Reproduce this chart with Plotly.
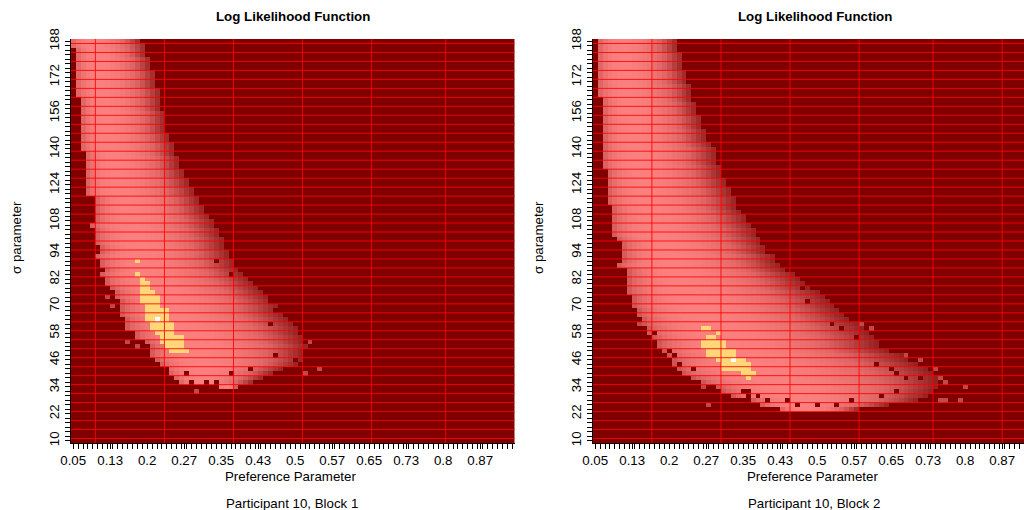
import plotly.graph_objects as go

# ---------------- grid of the likelihood surface ----------------
x_vals = [round(0.05 + 0.01 * i, 2) for i in range(90)]      # preference parameter cells
y_vals = list(range(10, 190, 2))                               # sigma parameter cells

xtick_vals = [0.05, 0.125, 0.2, 0.275, 0.35, 0.425, 0.5, 0.575, 0.65, 0.725, 0.8, 0.875]
xtick_text = ["0.05", "0.13", "0.2", "0.27", "0.35", "0.43", "0.5", "0.57", "0.65", "0.73", "0.8", "0.87"]
ytick_vals = [10, 22, 34, 46, 58, 70, 82, 94, 108, 124, 140, 156, 172, 188]
ytick_text = [str(v) for v in ytick_vals]

# ---------------- Block 1: band of high likelihood (row, left edge, right edge) ----------------
b1_rows = [188, 186, 184, 182, 180, 178, 176, 174, 172, 170, 168, 166, 164, 162, 160, 158, 156, 154,
           152, 150, 148, 146, 144, 142, 140, 138, 136, 134, 132, 130, 128, 126, 124, 122, 120, 118,
           116, 114, 112, 110, 108, 106, 104, 102, 100, 98, 96, 94, 92, 90, 88, 86, 84, 82, 80, 78,
           76, 74, 72, 70, 68, 66, 64, 62, 60, 58, 56, 54, 52, 50, 48, 46, 44, 42, 40, 38, 36, 34]
b1_left = [0.05, 0.05, 0.06, 0.06, 0.06, 0.06, 0.06, 0.06, 0.06, 0.06, 0.06, 0.06, 0.06, 0.07, 0.07, 0.07,
           0.07, 0.07, 0.07, 0.07, 0.07, 0.07, 0.07, 0.07, 0.07, 0.08, 0.08, 0.08, 0.08, 0.08, 0.08, 0.08,
           0.08, 0.08, 0.08, 0.10, 0.10, 0.10, 0.10, 0.10, 0.10, 0.09, 0.10, 0.10, 0.10, 0.10, 0.11, 0.11,
           0.10, 0.11, 0.11, 0.12, 0.11, 0.12, 0.12, 0.13, 0.14, 0.14, 0.15, 0.15, 0.15, 0.15, 0.16, 0.16,
           0.16, 0.18, 0.18, 0.20, 0.21, 0.21, 0.21, 0.22, 0.23, 0.24, 0.25, 0.26, 0.27, 0.35]
b1_right = [0.18, 0.19, 0.19, 0.19, 0.20, 0.20, 0.20, 0.21, 0.21, 0.21, 0.21, 0.22, 0.22, 0.22, 0.22, 0.22,
            0.23, 0.23, 0.23, 0.23, 0.23, 0.24, 0.24, 0.25, 0.25, 0.25, 0.26, 0.26, 0.26, 0.27, 0.27, 0.28,
            0.28, 0.29, 0.29, 0.30, 0.30, 0.31, 0.31, 0.32, 0.33, 0.33, 0.34, 0.34, 0.35, 0.35, 0.35, 0.36,
            0.36, 0.37, 0.37, 0.38, 0.39, 0.40, 0.41, 0.42, 0.43, 0.44, 0.45, 0.46, 0.46, 0.47, 0.48, 0.49,
            0.50, 0.50, 0.51, 0.51, 0.52, 0.51, 0.51, 0.51, 0.50, 0.47, 0.45, 0.43, 0.41, 0.38]
b1_top_rows = [90, 84, 82, 80, 78, 76, 74, 72, 70, 68, 66, 64, 62, 60, 58, 56, 54, 52, 50]
b1_top_from = [0.18, 0.18, 0.19, 0.19, 0.19, 0.19, 0.19, 0.19, 0.20, 0.20, 0.20, 0.20, 0.21, 0.21, 0.22,
               0.23, 0.23, 0.24, 0.25]
b1_top_to = [0.18, 0.18, 0.19, 0.20, 0.20, 0.21, 0.22, 0.22, 0.22, 0.24, 0.24, 0.24, 0.25, 0.25, 0.25,
             0.27, 0.27, 0.27, 0.28]
b1_max = (0.22, 64)
b1_dark = [(0.34, 90), (0.37, 84), (0.45, 72), (0.46, 68), (0.45, 62), (0.46, 48), (0.50, 46),
           (0.24, 42), (0.28, 40), (0.37, 40), (0.41, 42), (0.29, 36), (0.32, 36), (0.34, 36)]
b1_light = [(0.30, 32), (0.53, 54), (0.52, 40), (0.55, 42), (0.16, 54), (0.18, 52), (0.12, 74), (0.13, 70)]

# ---------------- Block 2 ----------------
b2_rows = [188, 186, 184, 182, 180, 178, 176, 174, 172, 170, 168, 166, 164, 162, 160, 158, 156, 154,
           152, 150, 148, 146, 144, 142, 140, 138, 136, 134, 132, 130, 128, 126, 124, 122, 120, 118,
           116, 114, 112, 110, 108, 106, 104, 102, 100, 98, 96, 94, 92, 90, 88, 86, 84, 82, 80, 78,
           76, 74, 72, 70, 68, 66, 64, 62, 60, 58, 56, 54, 52, 50, 48, 46, 44, 42, 40, 38, 36, 34,
           32, 30, 28, 26, 24]
b2_left = [0.06, 0.06, 0.06, 0.06, 0.06, 0.06, 0.06, 0.06, 0.06, 0.06, 0.06, 0.06, 0.06, 0.07, 0.07, 0.07,
           0.07, 0.07, 0.07, 0.07, 0.07, 0.07, 0.07, 0.07, 0.07, 0.07, 0.07, 0.07, 0.07, 0.08, 0.08, 0.08,
           0.08, 0.08, 0.08, 0.08, 0.08, 0.09, 0.09, 0.09, 0.09, 0.09, 0.09, 0.09, 0.10, 0.11, 0.11, 0.11,
           0.11, 0.11, 0.10, 0.12, 0.12, 0.12, 0.12, 0.12, 0.12, 0.13, 0.13, 0.13, 0.14, 0.14, 0.15, 0.15,
           0.16, 0.16, 0.17, 0.18, 0.18, 0.19, 0.20, 0.21, 0.21, 0.22, 0.23, 0.25, 0.27, 0.30, 0.31, 0.33,
           0.37, 0.39, 0.43]
b2_right = [0.21, 0.21, 0.21, 0.22, 0.22, 0.22, 0.22, 0.23, 0.23, 0.23, 0.24, 0.24, 0.24, 0.24, 0.25, 0.25,
            0.25, 0.26, 0.26, 0.26, 0.27, 0.27, 0.27, 0.28, 0.29, 0.29, 0.29, 0.29, 0.30, 0.30, 0.30, 0.31,
            0.31, 0.32, 0.32, 0.33, 0.33, 0.33, 0.34, 0.35, 0.35, 0.36, 0.37, 0.37, 0.38, 0.38, 0.39, 0.39,
            0.41, 0.41, 0.42, 0.43, 0.45, 0.46, 0.47, 0.48, 0.50, 0.51, 0.52, 0.53, 0.54, 0.55, 0.56, 0.58,
            0.59, 0.60, 0.61, 0.62, 0.62, 0.64, 0.67, 0.68, 0.70, 0.72, 0.73, 0.74, 0.74, 0.74, 0.73, 0.72,
            0.70, 0.64, 0.58]
b2_top_rows = [60, 58, 56, 54, 52, 50, 48, 46, 44, 42, 40, 38]
b2_top_from = [0.27, 0.30, 0.28, 0.27, 0.27, 0.28, 0.28, 0.30, 0.31, 0.31, 0.35, 0.36]
b2_top_to = [0.28, 0.30, 0.29, 0.31, 0.31, 0.33, 0.33, 0.35, 0.36, 0.36, 0.37, 0.36]
b2_max = (0.33, 46)
b2_dark = [(0.17, 58), (0.20, 50), (0.21, 48), (0.22, 44), (0.25, 42), (0.35, 32), (0.36, 32),
           (0.36, 30), (0.38, 30), (0.40, 28), (0.44, 28), (0.46, 26), (0.53, 62), (0.55, 60),
           (0.58, 56), (0.62, 44), (0.65, 42), (0.66, 40), (0.68, 38), (0.71, 38), (0.66, 32),
           (0.63, 30), (0.57, 28), (0.50, 26), (0.54, 26), (0.47, 78), (0.48, 72)]
b2_light = [(0.28, 26), (0.27, 34), (0.14, 62), (0.59, 62), (0.61, 60), (0.68, 48), (0.71, 46),
            (0.74, 42), (0.75, 38), (0.76, 36), (0.80, 34), (0.75, 28), (0.76, 28), (0.79, 28)]

# red grid strokes seen over each image
b1_vlines = [0.095, 0.235, 0.375, 0.515, 0.655, 0.805]
b2_vlines = [0.165, 0.305, 0.445, 0.585, 0.735, 0.875]
hlines = list(range(11, 189, 4))


def col_index(x):
    return int(round((x - 0.05) / 0.01))


def row_index(y):
    return y_vals.index(y)


def build_z(rows, left, right, top_rows, top_from, top_to, max_pt, dark, light):
    z = [[0.0 for _ in x_vals] for _ in y_vals]
    for y, lo, hi in zip(rows, left, right):
        r = row_index(y)
        peak = lo + 0.3 * (hi - lo)
        for c, x in enumerate(x_vals):
            if lo - 1e-9 <= x <= hi + 1e-9:
                if x <= peak:
                    d = (peak - x) / (peak - lo + 0.01)
                    v = 1 - 0.6 * d ** 3
                else:
                    d = (x - peak) / (hi - peak + 0.01)
                    v = 1 - d ** 2.2
                z[r][c] = 0.06 + 0.84 * max(v, 0.0)
    for y, a, b in zip(top_rows, top_from, top_to):
        r = row_index(y)
        for c in range(col_index(a), col_index(b) + 1):
            z[r][c] = 0.95
    for x, y in dark:
        z[row_index(y)][col_index(x)] = 0.0
    for x, y in light:
        z[row_index(y)][col_index(x)] = 0.4
    z[row_index(max_pt[1])][col_index(max_pt[0])] = 1.0
    return z


colorscale = [[0.0, "#800000"], [0.05, "#800000"], [0.06, "#8c1c1c"], [0.3, "#b03a3a"],
              [0.6, "#e06666"], [0.9, "#fa8080"], [0.92, "#ffd778"], [0.98, "#ffd778"],
              [0.985, "#ffffff"], [1.0, "#ffffff"]]

z1 = build_z(b1_rows, b1_left, b1_right, b1_top_rows, b1_top_from, b1_top_to, b1_max, b1_dark, b1_light)
z2 = build_z(b2_rows, b2_left, b2_right, b2_top_rows, b2_top_from, b2_top_to, b2_max, b2_dark, b2_light)

fig = go.Figure()
fig.add_trace(go.Heatmap(x=x_vals, y=y_vals, z=z1, zmin=0, zmax=1, colorscale=colorscale,
                         showscale=False, xaxis="x", yaxis="y", hoverinfo="skip"))
fig.add_trace(go.Heatmap(x=x_vals, y=y_vals, z=z2, zmin=0, zmax=1, colorscale=colorscale,
                         showscale=False, xaxis="x2", yaxis="y2", hoverinfo="skip"))

line_style = dict(color="rgba(255,0,0,0.85)", width=1)
shapes = []
for xr, yr, vl in (("x", "y", b1_vlines), ("x2", "y2", b2_vlines)):
    for v in vl:
        shapes.append(dict(type="line", xref=xr, yref=yr, x0=v, x1=v, y0=9, y1=189, line=line_style))
    for h in hlines:
        shapes.append(dict(type="line", xref=xr, yref=yr, x0=0.045, x1=0.945, y0=h, y1=h, line=line_style))

FONT = "Liberation Sans, Arial, Helvetica, sans-serif"
FS = 13.3
W, H = 1024, 510
left1, width = 70.7, 444.0
left2 = 592.7
top, bottom = 39.0, 443.0
px_per_unit = width / 0.9


def xaxis_cfg(domain, rng, anchor):
    return dict(domain=domain, range=rng, anchor=anchor, tickmode="array", tickvals=xtick_vals,
                ticktext=xtick_text, ticks="outside", ticklen=5, tickwidth=1, tickcolor="black",
                showline=True, linecolor="black", linewidth=1, showgrid=False, zeroline=False,
                automargin=False, tickfont=dict(family=FONT, size=FS, color="black"),
                minor=dict(tickmode="array", tickvals=x_vals, ticks="outside", ticklen=5,
                           tickwidth=1, tickcolor="black", showgrid=False))


def yaxis_cfg(anchor):
    return dict(domain=[(H - bottom) / H, (H - top) / H], range=[9, 189], anchor=anchor,
                tickmode="array", tickvals=ytick_vals, ticktext=ytick_text, tickangle=-90,
                ticks="outside", ticklen=5, tickwidth=1, tickcolor="black",
                showline=True, linecolor="black", linewidth=1, showgrid=False, zeroline=False,
                automargin=False, tickfont=dict(family=FONT, size=FS, color="black"),
                minor=dict(tickmode="array", tickvals=y_vals, ticks="outside", ticklen=5,
                           tickwidth=1, tickcolor="black", showgrid=False))


fig.update_layout(
    width=W, height=H, margin=dict(l=0, r=0, t=0, b=0, pad=0), autosize=False,
    paper_bgcolor="white", plot_bgcolor="white", showlegend=False,
    xaxis=xaxis_cfg([left1 / W, (left1 + width) / W], [0.045, 0.945], "y"),
    xaxis2=xaxis_cfg([left2 / W, 1.0], [0.045, 0.045 + (W - left2) / px_per_unit], "y2"),
    yaxis=yaxis_cfg("x"),
    yaxis2=yaxis_cfg("x2"),
    shapes=shapes,
)

annos = []
for off, sub in ((0.0, "Participant 10, Block 1"), (left2 - left1, "Participant 10, Block 2")):
    cx = left1 + width / 2 + off
    annos.append(dict(text="<b>Log Likelihood Function</b>", x=cx / W, y=(H - 16) / H, xref="paper",
                      yref="paper", showarrow=False, xanchor="center", yanchor="middle",
                      font=dict(family=FONT, size=FS, color="black")))
    annos.append(dict(text="Preference Parameter", x=(cx - 2) / W, y=(H - 476) / H, xref="paper",
                      yref="paper", showarrow=False, xanchor="center", yanchor="middle",
                      font=dict(family=FONT, size=FS, color="black")))
    annos.append(dict(text=sub, x=(cx - 1) / W, y=(H - 503) / H, xref="paper", yref="paper",
                      showarrow=False, xanchor="center", yanchor="middle",
                      font=dict(family=FONT, size=FS, color="black")))
    annos.append(dict(text="σ parameter", x=(16 + off) / W, y=(H - 238) / H, xref="paper",
                      yref="paper", showarrow=False, xanchor="center", yanchor="middle", textangle=-90,
                      font=dict(family=FONT, size=FS, color="black")))
fig.update_layout(annotations=annos)

page_fix = ("document.documentElement.style.margin='0';document.body.style.margin='0';"
            "document.body.style.overflow='hidden';")
fig.write_html("out.html", post_script=page_fix, config={"responsive": False})
